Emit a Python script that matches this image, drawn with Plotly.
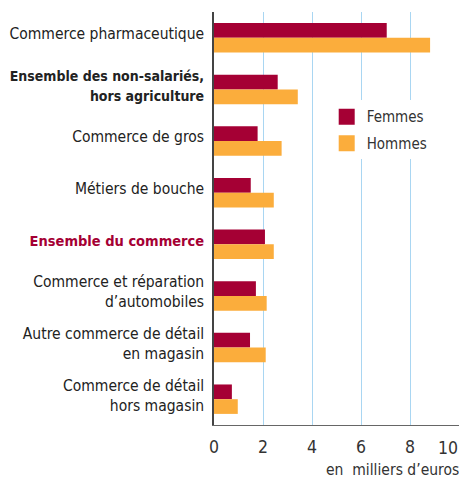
import plotly.graph_objects as go

categories = [
    "Commerce pharmaceutique",
    "<b><span style='font-size:14px'>Ensemble des non-salariés,<br>hors agriculture</span></b>",
    "Commerce de gros",
    "Métiers de bouche",
    "<b><span style='color:#a50034;font-size:14.5px'>Ensemble du commerce</span></b>",
    "Commerce et réparation<br>d’automobiles",
    "Autre commerce de détail<br>en magasin",
    "Commerce de détail<br>hors magasin",
]
femmes = [7.05, 2.6, 1.78, 1.5, 2.08, 1.71, 1.47, 0.73]
hommes = [8.82, 3.42, 2.76, 2.44, 2.44, 2.15, 2.11, 0.97]
x_ticks = [0, 2, 4, 6, 8, 10]
series_names = ["Femmes", "Hommes"]

FONT = "DejaVu Sans Condensed, Liberation Sans Narrow, Liberation Sans, Arial, sans-serif"
C_F = "#a50034"
C_H = "#fbad3c"
colors = [C_F, C_H]

ids = list(range(len(categories)))

fig = go.Figure()
for name, vals, col in zip(series_names, [femmes, hommes], colors):
    fig.add_trace(go.Bar(y=ids, x=vals, orientation="h", name=name, showlegend=False,
                         legendgroup=name, marker=dict(color=col, line=dict(width=0))))
# legend proxies (big square swatches)
for name, col in zip(series_names, colors):
    fig.add_trace(go.Scatter(x=[None], y=[None], mode="markers", name=name, legendgroup=name,
                             marker=dict(symbol="square", size=16, color=col, line=dict(width=0))))

# last tick label drawn as an annotation so it stays inside the page edge
tick_text = [str(v) for v in x_ticks]
tick_text_axis = tick_text[:-1] + [""]

fig.update_layout(
    width=467, height=480,
    margin=dict(l=206, r=16, t=4, b=63, autoexpand=False),
    paper_bgcolor="white", plot_bgcolor="white",
    barmode="group", bargap=0.43, bargroupgap=0,
    font=dict(family=FONT, size=16, color="#222222"),
    showlegend=True,
    legend=dict(x=0.46, y=0.786, xanchor="left", yanchor="top",
                font=dict(family=FONT, size=15, color="#333333"),
                bgcolor="white", tracegroupgap=4, itemwidth=30, itemsizing="trace"),
    xaxis=dict(range=[0, 10], tickvals=x_ticks, ticktext=tick_text_axis,
               showgrid=True, gridcolor="#a9d6f2", gridwidth=1.2,
               showline=True, linecolor="#666666", linewidth=1.2,
               ticks="", tickfont=dict(size=17.5, color="#333333"),
               ticklabeloverflow="allow", ticklabelstandoff=6,
               zeroline=False, fixedrange=True, automargin=False),
    yaxis=dict(tickvals=ids, ticktext=categories, autorange="reversed",
               range=[len(categories) - 0.5, -0.5],
               showline=True, linecolor="#444444", linewidth=1.5,
               ticks="", ticklabelstandoff=5, ticklabelshift=4,
               tickfont=dict(size=15.5, color="#222222"),
               showgrid=False, zeroline=False, automargin=False),
    annotations=[
        dict(text="en  milliers d’euros", x=1, y=-0.109, xref="paper", yref="paper",
             xanchor="right", yanchor="middle", showarrow=False, xshift=2,
             font=dict(family=FONT, size=15.5, color="#333333")),
        dict(text=tick_text[-1], x=x_ticks[-1], y=0, xref="x", yref="paper",
             xanchor="right", yanchor="top", yshift=-11, xshift=1, showarrow=False,
             font=dict(family=FONT, size=17.5, color="#333333")),
    ],
)

fig.write_html("out.html")
